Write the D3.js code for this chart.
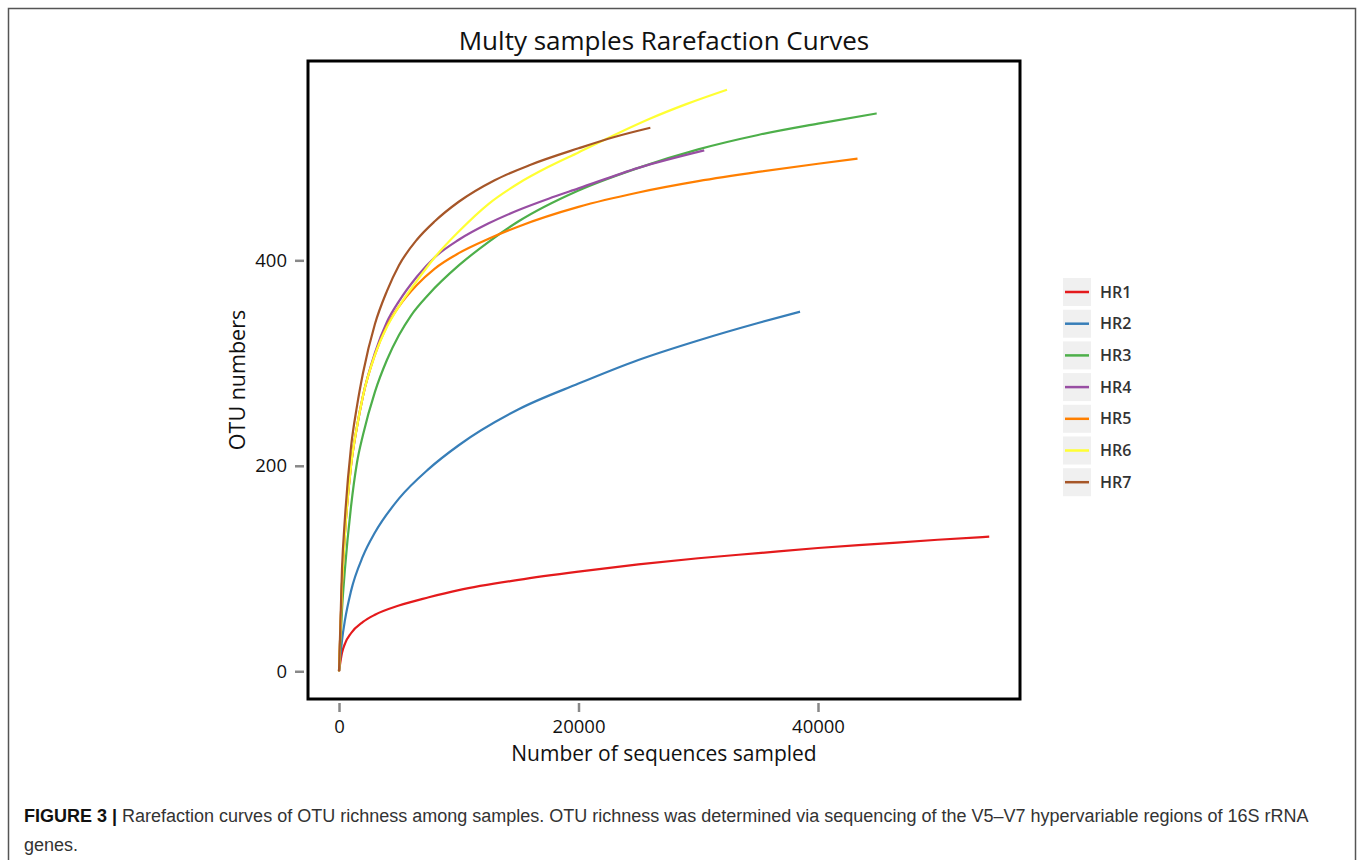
<!DOCTYPE html>
<html>
<head>
<meta charset="utf-8">
<script src="https://cdn.jsdelivr.net/npm/d3@7"></script>
<style>
  body { margin: 0; background: #fff; }
  text { font-family: "Open Sans", "Noto Sans", sans-serif; }
</style>
</head>
<body>
<script>
// sample names and curve colours
var samples = ['HR1', 'HR2', 'HR3', 'HR4', 'HR5', 'HR6', 'HR7']
var colors = ['#e41a1c', '#377eb8', '#4daf4a', '#984ea3', '#ff7f00', '#ffff33', '#a65628']

// rarefaction points: [sequences sampled, OTUs]
var hr1 = [[0,0],[250,18],[500,27],[1000,37],[2000,48],[3000,55],[5000,64],[7500,72],[10000,79],[15000,89],[20000,97],[25000,104],[30000,110],[35000,115],[40000,120],[45000,124],[50000,128],[54300,131]]
var hr2 = [[0,0],[250,30],[500,50],[1000,78],[2000,112],[3000,135],[5000,168],[7500,197],[10000,220],[15000,255],[20000,280],[25000,303],[30000,322],[35000,339],[38500,350]]
var hr3 = [[0,0],[250,60],[500,100],[1000,160],[1500,203],[2000,230],[3000,272],[4000,303],[5000,327],[6000,346],[7500,367],[10000,395],[12500,418],[15000,438],[20000,468],[25000,490],[30000,508],[35000,522],[40000,533],[44900,543]]
var hr4 = [[0,0],[250,85],[500,135],[1000,200],[1500,238],[2000,268],[3000,310],[4000,340],[5000,360],[6500,384],[8000,403],[10000,420],[12500,436],[15000,449],[17500,460],[20000,470],[25000,490],[30500,507]]
var hr5 = [[0,0],[250,85],[500,135],[1000,200],[1500,238],[2000,268],[3000,308],[4000,336],[5000,355],[6500,376],[8000,392],[10000,407],[12500,421],[15000,433],[20000,452],[25000,466],[30000,477],[35000,486],[40000,494],[43300,499]]
var hr6 = [[0,0],[250,85],[500,135],[1000,200],[1500,238],[2000,268],[3000,308],[4000,335],[5000,355],[6500,380],[8000,403],[10000,428],[12500,455],[15000,475],[17500,491],[20000,505],[23000,522],[26000,538],[29000,552],[32400,566]]
var hr7 = [[0,0],[250,100],[500,150],[1000,218],[1500,258],[2000,290],[3000,338],[4000,370],[5000,395],[6500,420],[8000,438],[10000,457],[13000,478],[16000,493],[20000,509],[23000,520],[26000,529]]
var series = [hr1, hr2, hr3, hr4, hr5, hr6, hr7]

var xTicks = [0, 20000, 40000]
var yTicks = [0, 200, 400]

var width = 1358, height = 860
var box = { left: 308, top: 61, right: 1020, bottom: 699 }

var svg = d3.select('body').append('svg')
  .attr('width', width)
  .attr('height', height)

// outer figure frame
svg.append('rect')
  .attr('x', 8.5).attr('y', 8.5)
  .attr('width', 1347).attr('height', 870)
  .attr('fill', 'none')
  .attr('stroke', '#555')
  .attr('stroke-width', 1.5)

var x = d3.scaleLinear().domain([-2590, 56870]).range([box.left, box.right])
var y = d3.scaleLinear().domain([-27, 594]).range([box.bottom, box.top])

// title
svg.append('text')
  .attr('x', (box.left + box.right) / 2)
  .attr('y', 50)
  .attr('text-anchor', 'middle')
  .attr('font-size', 26)
  .attr('fill', '#111')
  .text('Multy samples Rarefaction Curves')

// axes, ticks outside the box
var xAxis = svg.append('g')
  .attr('transform', 'translate(0,' + (box.bottom + 4) + ')')
  .call(d3.axisBottom(x).tickValues(xTicks).tickSize(9).tickPadding(8).tickFormat(d3.format('d')))
var yAxis = svg.append('g')
  .attr('transform', 'translate(' + (box.left - 4) + ',0)')
  .call(d3.axisLeft(y).tickValues(yTicks).tickSize(9).tickPadding(8).tickFormat(d3.format('d')))

;[xAxis, yAxis].forEach(function(ax) {
  ax.select('.domain').remove()
  ax.selectAll('line').attr('stroke', '#888').attr('stroke-width', 2.5)
  ax.selectAll('text').attr('font-size', 18.5).attr('fill', '#111')
    .style('font-family', '"Open Sans", sans-serif')
})

svg.append('text')
  .attr('x', (box.left + box.right) / 2)
  .attr('y', 761)
  .attr('text-anchor', 'middle')
  .attr('font-size', 21)
  .attr('fill', '#111')
  .text('Number of sequences sampled')

svg.append('text')
  .attr('transform', 'translate(245,380)rotate(-90)')
  .attr('text-anchor', 'middle')
  .attr('font-size', 21.5)
  .attr('fill', '#111')
  .text('OTU numbers')

// curves
var line = d3.line()
  .x(function(d) { return x(d[0]) })
  .y(function(d) { return y(d[1]) })
  .curve(d3.curveMonotoneX)

svg.append('g').selectAll('path')
  .data(series)
  .enter().append('path')
  .attr('d', line)
  .attr('fill', 'none')
  .attr('stroke', function(d, i) { return colors[i] })
  .attr('stroke-width', 2.2)

// plot box
svg.append('rect')
  .attr('x', box.left).attr('y', box.top)
  .attr('width', box.right - box.left).attr('height', box.bottom - box.top)
  .attr('fill', 'none')
  .attr('stroke', '#000')
  .attr('stroke-width', 3)

// legend
var legend = svg.append('g')
  .attr('transform', 'translate(1063,278)')
var items = legend.selectAll('g')
  .data(samples)
  .enter().append('g')
  .attr('transform', function(d, i) { return 'translate(0,' + (i * 31.7) + ')' })
items.append('rect')
  .attr('width', 28).attr('height', 28)
  .attr('fill', '#f0f0f0')
items.append('line')
  .attr('x1', 2).attr('x2', 26)
  .attr('y1', 14).attr('y2', 14)
  .attr('stroke', function(d, i) { return colors[i] })
  .attr('stroke-width', 2.5)
items.append('text')
  .attr('x', 37).attr('y', 14)
  .attr('dy', '.35em')
  .attr('font-size', 16)
  .attr('font-weight', 600)
  .attr('fill', '#333')
  .text(function(d) { return d })

// caption
var cap = svg.append('text')
  .attr('x', 24).attr('y', 822)
  .attr('font-size', 18)
  .attr('fill', '#333')
  .style('font-family', '"Liberation Sans", Arial, sans-serif')
cap.append('tspan').attr('font-weight', 'bold').attr('fill', '#111').text('FIGURE 3 | ')
cap.append('tspan').text('Rarefaction curves of OTU richness among samples. OTU richness was determined via sequencing of the V5\u2013V7 hypervariable regions of 16S rRNA')
svg.append('text')
  .attr('x', 24).attr('y', 851)
  .attr('font-size', 18)
  .attr('fill', '#333')
  .style('font-family', '"Liberation Sans", Arial, sans-serif')
  .text('genes.')
</script>
</body>
</html>
